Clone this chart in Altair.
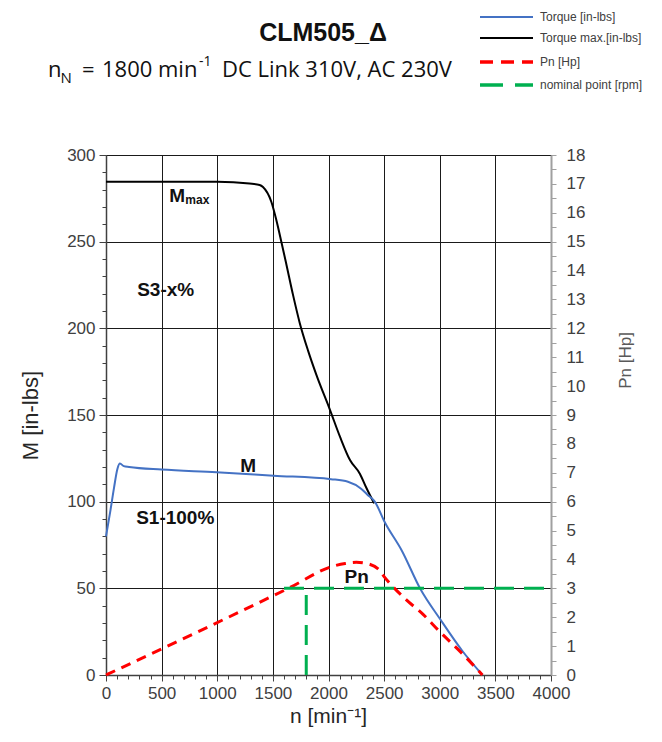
import altair as alt
import pandas as pd

# ---------------- data ----------------
rpm_m = [0, 40, 72, 103, 125, 160, 208, 500, 993, 1507, 2022, 2175, 2293, 2350, 2416, 2507, 2657, 2826, 3006, 3202, 3384]
torque_m = [80, 95, 108, 119, 122, 120.5, 120, 118.5, 117, 115, 113, 111.5, 107.5, 104, 100, 88, 72, 49.6, 32, 14, 0]

rpm_mmax = [0, 1000, 1290, 1381, 1411, 1486, 1531, 1576, 1621, 1682, 1742, 1817, 1892, 2013, 2103, 2193, 2283, 2340, 2410]
torque_mmax = [284.5, 284.5, 283.5, 282.7, 281.5, 273, 262.5, 250, 237, 219, 203, 187, 173, 153, 137.5, 124, 116, 108, 99]

rpm_pn = [0, 1629, 2053, 2150, 2250, 2330, 2446, 2507, 2700, 2850, 3000, 3200, 3384]
hp_pn = [0, 2.98, 3.78, 3.86, 3.9, 3.87, 3.67, 3.37, 2.6, 2.1, 1.5, 0.75, 0]

nominal_rpm = [1600, 4000, 1800, 1800]
nominal_hp = [3, 3, 0, 3]
nominal_seg = ["h", "h", "v", "v"]

ann_text = ["S3-x%", "M", "S1-100%", "Pn", "M", "max"]
ann_rpm = [280, 1207, 271, 2144, 569, 713]
ann_val = [218.7, 117, 87.2, 53, 273, 271.6]

legend_names = ["Torque [in-lbs]", "Torque max.[in-lbs]", "Pn [Hp]", "nominal point [rpm]"]

# ---------------- frames ----------------
df_m = pd.DataFrame({"rpm": rpm_m, "val": torque_m})
df_mmax = pd.DataFrame({"rpm": rpm_mmax, "val": torque_mmax})
df_pn = pd.DataFrame({"rpm": rpm_pn, "hp": hp_pn})
df_nom = pd.DataFrame({"rpm": nominal_rpm, "hp": nominal_hp, "seg": nominal_seg})
df_ann = pd.DataFrame({"t": ann_text, "rpm": ann_rpm, "val": ann_val})
one = pd.DataFrame({"a": [0]})

W, H = 445, 520
FONT = "Liberation Sans"
LBL = "#404040"

x_axis = alt.Axis(
    values=list(range(0, 4001, 100)),
    labelExpr="datum.value % 500 === 0 ? datum.label : ''",
    format="d",
    labelOverlap=False, labelFlush=False,
    tickSize={"condition": {"test": "datum.value % 500 === 0", "value": 6}, "value": 4},
    tickColor="#404040",
    grid=True, gridColor="#1a1a1a", gridWidth=1,
    gridOpacity={"condition": {"test": "datum.value % 500 === 0", "value": 1}, "value": 0},
    domainColor="#404040", domainWidth=1.5,
    labelFont=FONT, labelFontSize=17, labelColor=LBL, labelPadding=4,
    title="n [min⁻¹]", titleFont=FONT, titleFontSize=21, titleFontWeight="normal",
    titleColor="#262626", titleX=222, titleY=41, titleBaseline="middle",
)
X = alt.X("rpm:Q", scale=alt.Scale(domain=[0, 4000], nice=False, zero=False), axis=x_axis)

yl_axis = alt.Axis(
    values=list(range(0, 301, 10)),
    labelExpr="datum.value % 50 === 0 ? datum.label : ''",
    labelOverlap=False, labelFlush=False,
    tickSize={"condition": {"test": "datum.value % 50 === 0", "value": 7}, "value": 4},
    tickColor="#404040",
    grid=True, gridColor="#1a1a1a", gridWidth=1,
    gridOpacity={"condition": {"test": "datum.value % 50 === 0", "value": 1}, "value": 0},
    domainColor="#404040", domainWidth=1.5,
    labelFont=FONT, labelFontSize=17, labelColor=LBL, labelPadding=4,
    title="M [in-lbs]", titleFont=FONT, titleFontSize=22, titleFontWeight="normal",
    titleColor="#262626", titleX=-76, titleY=260, titleBaseline="middle", titleAngle=-90,
)
YL = alt.Y("val:Q", scale=alt.Scale(domain=[0, 300], nice=False, zero=True), axis=yl_axis)

yr_axis = alt.Axis(
    orient="right",
    values=[v / 2 for v in range(0, 37)],
    labelExpr="datum.value % 1 === 0 ? format(datum.value, 'd') : ''",
    labelOverlap=False, labelFlush=False,
    tickSize=5, tickColor="#a0a0a0",
    grid=False,
    domainColor="#a0a0a0", domainWidth=2,
    labelFont=FONT, labelFontSize=17, labelColor=LBL, labelPadding=10,
    title="Pn [Hp]", titleFont=FONT, titleFontSize=17, titleFontWeight="normal",
    titleColor="#595959", titleX=74, titleY=205, titleBaseline="middle", titleAngle=-90,
)
YR = alt.Y("hp:Q", scale=alt.Scale(domain=[0, 18], nice=False, zero=True), axis=yr_axis)

# ---------------- left (torque) layers ----------------
mmax_line = alt.Chart(df_mmax).mark_line(color="#000000", strokeWidth=2, interpolate="monotone").encode(x=X, y=YL)
m_line = alt.Chart(df_m).mark_line(color="#4472C4", strokeWidth=2, interpolate="monotone").encode(x=X, y=YL)

ann_big = alt.Chart(df_ann).transform_filter("datum.t !== 'max'").mark_text(
    font=FONT, fontSize=19, fontWeight="bold", align="left", baseline="alphabetic", color="#111111"
).encode(x=X, y=YL, text="t:N")
ann_small = alt.Chart(df_ann).transform_filter("datum.t === 'max'").mark_text(
    font=FONT, fontSize=12, fontWeight="bold", align="left", baseline="alphabetic", color="#111111"
).encode(x=X, y=YL, text="t:N")

# ---------------- header texts ----------------
def txt(s, x, y, size, weight="normal", font=FONT, color="#111111", align="left", baseline="alphabetic"):
    return alt.Chart(one).mark_text(
        text=s, font=font, fontSize=size, fontWeight=weight, color=color, align=align, baseline=baseline
    ).encode(x=alt.value(x), y=alt.value(y))

SUB = "Open Sans"
header = [
    txt("CLM505_Δ", 217, -114, 25, weight="bold", align="center"),
    txt("n", -58, -78, 22, font=SUB),
    txt("N", -45.5, -72, 15, font=SUB),
    txt("=", -24, -78, 22, font=SUB),
    txt("1800", -4, -78, 22, font=SUB),
    txt("min", 52, -78, 22, font=SUB),
    txt("-1", 93, -89, 14, font=SUB),
    txt("DC Link 310V, AC 230V", 116, -78, 22, font=SUB),
]

# ---------------- manual legend ----------------
leg_y = [-138, -117, -93, -70]
leg_col = ["#4472C4", "#000000", "#FF0000", "#00B050"]
leg_w = [2, 2.2, 3.5, 3.5]
leg_dash = [[1, 0], [1, 0], [13, 8], [23, 12]]
legend = []
for name, yy, c, w, d in zip(legend_names, leg_y, leg_col, leg_w, leg_dash):
    legend.append(
        alt.Chart(one).mark_rule(color=c, strokeWidth=w, strokeDash=d).encode(
            x=alt.value(374), x2=alt.value(427), y=alt.value(yy)
        )
    )
    legend.append(txt(name, 434, yy, 12, color="#404040", baseline="middle"))

left = alt.layer(mmax_line, m_line, ann_big, ann_small, *header, *legend)

# ---------------- right (Hp) layers ----------------
pn_line = alt.Chart(df_pn).mark_line(color="#FF0000", strokeWidth=3, strokeDash=[10, 7], interpolate="monotone").encode(x=X, y=YR)
nom_line = alt.Chart(df_nom).mark_line(color="#00B050", strokeWidth=3, strokeDash=[20, 10]).encode(
    x=X, y=YR, detail="seg:N"
)
right = alt.layer(pn_line, nom_line)

chart = alt.layer(left, right).resolve_scale(y="independent").properties(
    width=W, height=H,
    padding={"left": 98, "top": 147, "right": 102, "bottom": 55},
    autosize=alt.AutoSizeParams(type="none"),
).configure_view(stroke="#a0a0a0", strokeWidth=2).configure(background="white")

chart.save("out.html", embed_options={"renderer": "svg", "actions": False})
